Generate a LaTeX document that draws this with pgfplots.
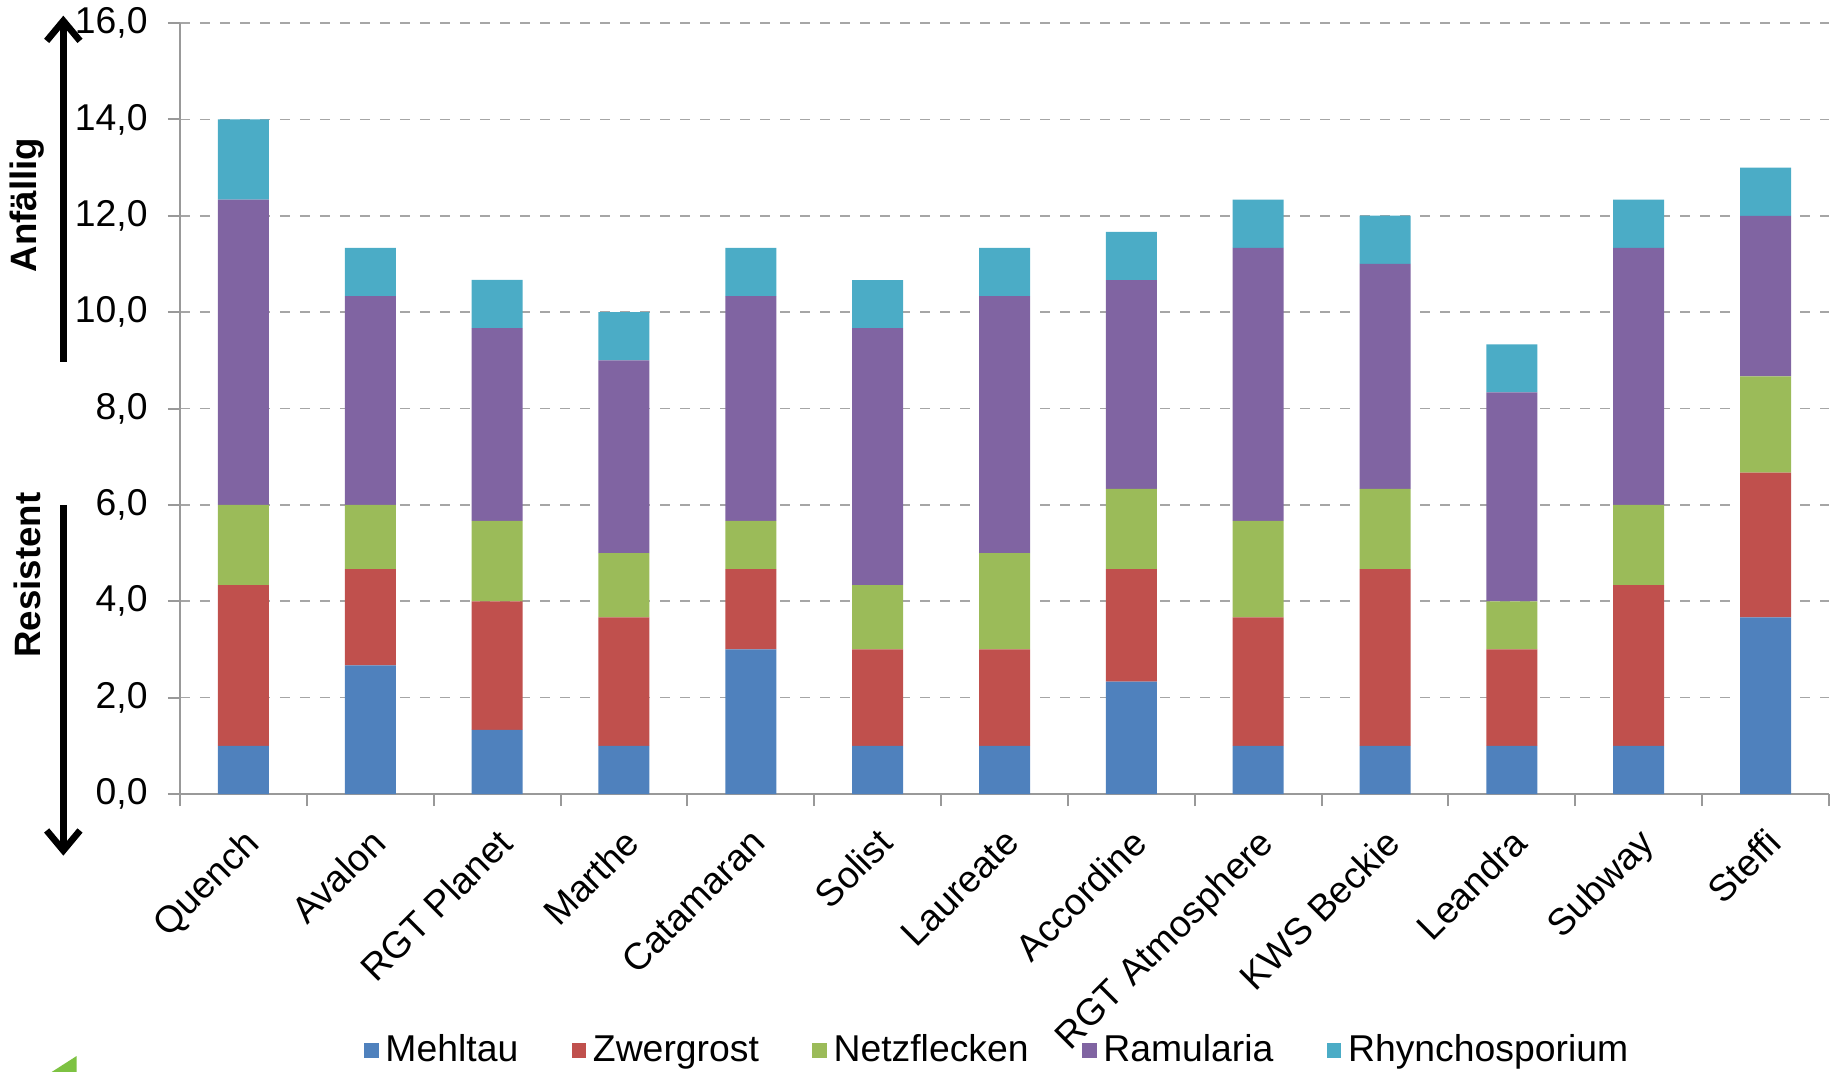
\documentclass[border=0pt]{standalone}
\usepackage{pgfplots}
\pgfplotsset{compat=1.18}
\usepackage{pgfplotstable}
\usetikzlibrary{arrows.meta}
\usepackage{fontspec}
\setmainfont{Liberation Sans}
\definecolor{cM}{HTML}{4F81BD}
\definecolor{cZ}{HTML}{C0504D}
\definecolor{cN}{HTML}{9BBB59}
\definecolor{cR}{HTML}{8064A2}
\definecolor{cRh}{HTML}{4BACC6}
\definecolor{logo}{HTML}{7DC242}

\pgfplotstableread{
idx M Z N R Rh
0 1 3.333 1.667 6.333 1.667
1 2.667 2 1.333 4.333 1
2 1.333 2.667 1.667 4 1
3 1 2.667 1.333 4 1
4 3 1.667 1 4.667 1
5 1 2 1.333 5.333 1
6 1 2 2 5.333 1
7 2.333 2.333 1.667 4.333 1
8 1 2.667 2 5.667 1
9 1 3.667 1.667 4.667 1
10 1 2 1 4.333 1
11 1 3.333 1.667 5.333 1
12 3.667 3 2 3.333 1
}\data

\begin{document}
\begin{tikzpicture}[font=\fontsize{11.2pt}{13.4pt}\selectfont]
\path[use as bounding box] (-54pt,-83.4pt) rectangle (498.3pt,238.2pt);
\begin{axis}[
  at={(0pt,0pt)}, anchor=south west,
  scale only axis, width=494.7pt, height=231.3pt,
  ybar stacked, bar width=15.3pt,
  xmin=-0.5, xmax=12.5, ymin=0, ymax=16,
  axis x line*=bottom, axis y line*=left,
  axis line style={-, draw=gray!80, line width=0.6pt},
  xtick={0,...,12},
  xticklabels={Quench,Avalon,RGT Planet,Marthe,Catamaran,Solist,Laureate,Accordine,RGT Atmosphere,KWS Beckie,Leandra,Subway,Steffi},
  xticklabel style={rotate=45, anchor=north east, inner sep=1pt, xshift=-3.5pt, yshift=-2.8pt},
  minor xtick={-0.5,0.5,...,12.5},
  every major x tick/.append style={draw=none},
  ytick={0,2,...,16},
  tick align=outside, major tick length=3.6pt, minor tick length=3.6pt,
  tick style={gray!80, line width=0.6pt},
  ymajorgrids, grid style={dashed, gray!70, line width=0.5pt},
  yticklabel style={xshift=-2.6pt, /pgf/number format/.cd, fixed, fixed zerofill, precision=1, use comma, assume math mode=true},
  legend columns=5,
  legend style={draw=none, fill=none, at={(0.497,-0.333)}, anchor=center,
    /tikz/every even column/.append style={column sep=14pt},
    font=\fontsize{11.2pt}{13.4pt}\selectfont},
  legend image code/.code={\fill[#1, draw=none] (0pt,-2.2pt) rectangle (4.4pt,2.2pt);},
]
\addplot[fill=cM, draw=none] table[x=idx, y=M] {\data};
\addplot[fill=cZ, draw=none] table[x=idx, y=Z] {\data};
\addplot[fill=cN, draw=none] table[x=idx, y=N] {\data};
\addplot[fill=cR, draw=none] table[x=idx, y=R] {\data};
\addplot[fill=cRh, draw=none] table[x=idx, y=Rh] {\data};
\legend{Mehltau, Zwergrost, Netzflecken, Ramularia, Rhynchosporium}
\end{axis}
\draw[line width=2.2pt, -{Straight Barb[length=6pt, width=10pt, line width=2pt]}] (-35pt,129.6pt) -- (-35pt,233.5pt);
\draw[line width=2.2pt, -{Straight Barb[length=6pt, width=10pt, line width=2pt]}] (-35pt,86.7pt) -- (-35pt,-18.5pt);
\node[rotate=90, font=\fontsize{11pt}{13pt}\selectfont\bfseries] at (-45.8pt,176.7pt) {Anfällig};
\node[rotate=90, font=\fontsize{11pt}{13pt}\selectfont\bfseries] at (-45.8pt,65.7pt) {Resistent};
\fill[logo] (-38.5pt,-83.4pt) .. controls (-35pt,-81pt) .. (-31pt,-78.6pt) -- (-31pt,-83.4pt) -- cycle;
\end{tikzpicture}
\end{document}
